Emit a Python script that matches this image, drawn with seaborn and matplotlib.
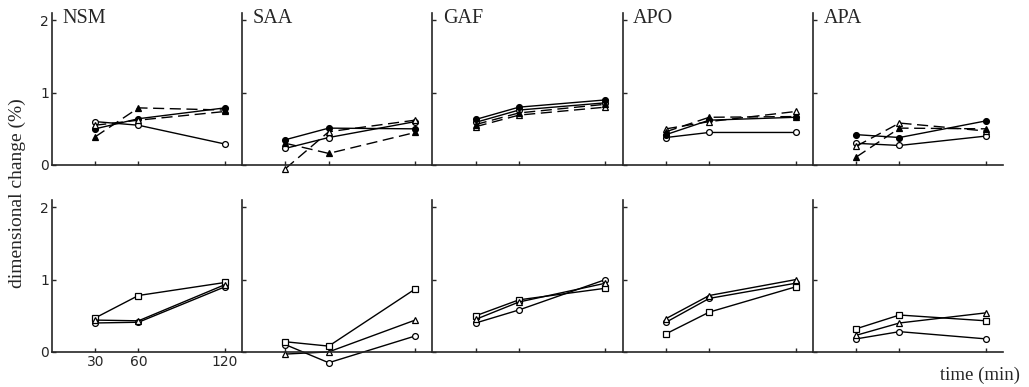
import seaborn as sns
import matplotlib.pyplot as plt

# time points (min)
times = [30, 60, 120]
panels = ["NSM", "SAA", "GAF", "APO", "APA"]

# upper row, one list per panel (NSM, SAA, GAF, APO, APA)
top_open_circle = [[0.60, 0.55, 0.29], [0.23, 0.38, 0.60], [0.59, 0.76, 0.86],
                   [0.38, 0.45, 0.45], [0.30, 0.27, 0.40]]
top_filled_circle = [[0.50, 0.64, 0.79], [0.35, 0.51, 0.50], [0.63, 0.80, 0.90],
                     [0.42, 0.62, 0.66], [0.42, 0.38, 0.61]]
top_open_triangle = [[0.55, 0.62, 0.74], [-0.05, 0.46, 0.62], [0.53, 0.69, 0.80],
                     [0.50, 0.60, 0.74], [0.26, 0.58, 0.47]]
top_filled_triangle = [[0.39, 0.79, 0.76], [0.30, 0.16, 0.45], [0.56, 0.72, 0.84],
                       [0.46, 0.66, 0.67], [0.11, 0.51, 0.50]]

# lower row
bot_circle = [[0.40, 0.41, 0.90], [0.10, -0.15, 0.22], [0.40, 0.58, 1.00],
              [0.41, 0.74, 0.95], [0.18, 0.28, 0.18]]
bot_square = [[0.47, 0.78, 0.96], [0.14, 0.08, 0.87], [0.50, 0.72, 0.88],
              [0.25, 0.55, 0.90], [0.32, 0.51, 0.43]]
bot_triangle = [[0.44, 0.43, 0.93], [-0.03, 0.00, 0.44], [0.45, 0.69, 0.95],
                [0.46, 0.78, 1.00], [0.23, 0.40, 0.54]]

sns.set_style("ticks")
plt.rcParams["font.family"] = ["DejaVu Sans"]

fig, axes = plt.subplots(2, 5, figsize=(10.29, 3.87), dpi=100, sharex=True, sharey=True)
fig.subplots_adjust(left=0.0505, right=0.975, top=0.966, bottom=0.044, wspace=0, hspace=0.1)


def draw(ax, vals, marker, filled, dashed):
    sns.lineplot(x=times, y=vals, ax=ax, color="black", lw=1.0,
                 linestyle=(0, (8, 4)) if dashed else "-",
                 marker=marker, markersize=4.2, markeredgewidth=0.9,
                 markeredgecolor="black",
                 markerfacecolor="black" if filled else "white",
                 legend=False)


for i, name in enumerate(panels):
    top = axes[0, i]
    draw(top, top_open_circle[i], "o", False, False)
    draw(top, top_filled_circle[i], "o", True, False)
    draw(top, top_open_triangle[i], "^", False, True)
    draw(top, top_filled_triangle[i], "^", True, True)
    top.text(0.055, 1.025, name, transform=top.transAxes, va="top", ha="left",
             fontsize=14.5, family="Liberation Serif")

    bot = axes[1, i]
    draw(bot, bot_circle[i], "o", False, False)
    draw(bot, bot_square[i], "s", False, False)
    draw(bot, bot_triangle[i], "^", False, False)

for ax in axes.flat:
    ax.set_xlim(0, 132)
    ax.set_ylim(-0.25, 2.1)
    ax.set_xticks(times)
    ax.set_yticks([0, 1, 2])
    sns.despine(ax=ax)
    ax.spines["bottom"].set_position(("data", 0))
    ax.spines["left"].set_bounds(0, 2.1)
    ax.spines["left"].set_linewidth(1.2)
    ax.spines["bottom"].set_linewidth(1.2)
    ax.tick_params(direction="in", length=3, width=1, labelsize=10, pad=2)
    ax.set_xlabel("")
    ax.set_ylabel("")

for ax in axes[0, :]:
    ax.tick_params(labelbottom=False)
for ax in axes[1, 1:]:
    ax.tick_params(labelbottom=False)
axes[1, 0].tick_params(labelbottom=True)

fig.text(0.017, 0.5, "dimensional change (%)", rotation=90, va="center", ha="center",
         fontsize=14, family="Liberation Serif")
fig.text(0.952, 0.03, "time (min)", va="center", ha="center",
         fontsize=13.5, family="Liberation Serif")

fig.savefig("out.png", dpi=100)
